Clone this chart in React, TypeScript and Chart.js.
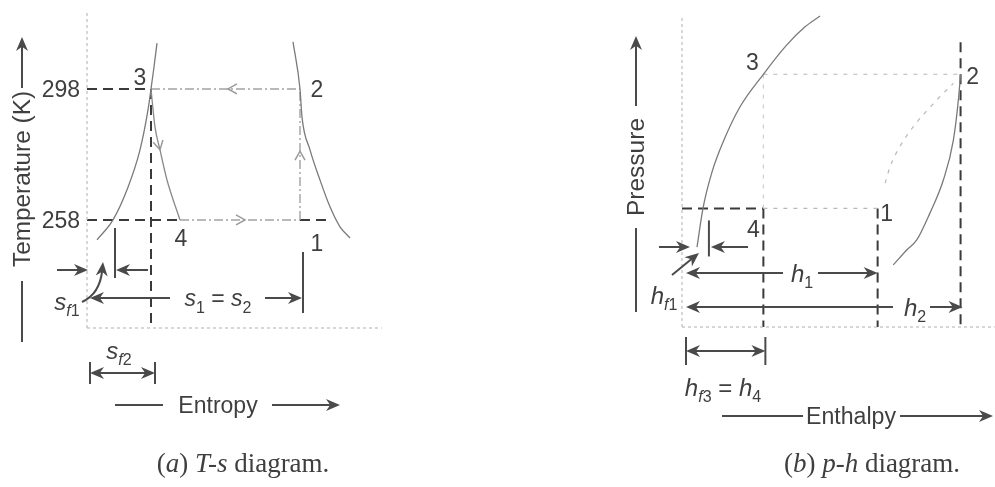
import { useEffect, useRef } from "react";
import { Chart, registerables } from "chart.js";

Chart.register(...registerables);

// ---------- (a) T-s diagram ----------
const T_COND = 298; // condenser temperature, K
const T_EVAP = 258; // evaporator temperature, K
const tempTicks = [298, 258];
const S_F1 = 0.26; // liquid entropy at T_EVAP
const S_F2 = 0.64; // liquid entropy at T_COND (state 3)
const S_4 = 0.93;
const S_1 = 2.13; // s1 = s2
const S_MIN = 0;
const S_MAX = 2.95;
const T_MIN = 225;
const T_MAX = 321.5;

const liquidS = [0.1, 0.26, 0.4, 0.53, 0.61, 0.64, 0.67, 0.7];
const liquidT = [251.9, 258, 267.2, 279.4, 291.6, 298, 304.7, 312.0];
const vapourS = [2.06, 2.13, 2.15, 2.23, 2.33, 2.43, 2.53, 2.63];
const vapourT = [312.4, 298, 289.4, 279.4, 270.2, 262.0, 255.9, 252.5];
const throttleS = [0.64, 0.68, 0.73, 0.8, 0.93];
const throttleT = [298, 286.4, 279.4, 270.2, 258];

// ---------- (b) p-h diagram ----------
const P_HIGH = 8.1;
const P_LOW = 3.8;
const P_GUIDE_TOP = 9.13;
const H_F1 = 8.6;
const H_4 = 26; // h_f3 = h4
const H_1 = 62.5;
const H_2 = 89;
const H_MIN = 0;
const H_MAX = 100;
const P_MIN = 0;
const P_MAX = 10.16;
const P_AXIS_TOP = 9.94;

const phLiquidH = [4.8, 6.7, 9.6, 13.4, 18.5, 26, 33.2, 39.3, 44.1];
const phLiquidP = [2.56, 3.8, 4.97, 5.99, 7.05, 8.1, 9.01, 9.62, 9.97];
const phVapourH = [67.5, 71.8, 75.0, 79.2, 83.5, 86.7, 88.3, 89];
const phVapourP = [1.99, 2.47, 2.79, 3.65, 4.71, 5.99, 7.28, 8.1];
const compressH = [64.9, 66.5, 69.6, 73.9, 80.3, 86.7];
const compressP = [4.61, 5.14, 5.78, 6.42, 7.16, 7.81];

// ---------- styling ----------
const INK = "#3f3f3f";
const ARROW = "#4a4a4a";
const SANS = '"Liberation Sans", Arial, sans-serif';
const SERIF = '"Liberation Serif", "Times New Roman", serif';

type Pt = { x: number; y: number };
const pts = (xs: number[], ys: number[]): Pt[] => xs.map((x, i) => ({ x, y: ys[i] }));
const seg = (x0: number, y0: number, x1: number, y1: number): Pt[] => [
  { x: x0, y: y0 },
  { x: x1, y: y1 },
];

type Style = { color: string; width: number; dash?: number[]; smooth?: boolean };
const CURVE: Style = { color: "#7a7a7a", width: 1.3, smooth: true };
const PROCESS: Style = { color: "#a2a2a2", width: 1.4, dash: [9, 3, 2, 3] };
const DASHED: Style = { color: "#3a3a3a", width: 2, dash: [10, 6] };
const AXIS: Style = { color: "#bdbdbd", width: 1.2, dash: [3, 3] };
const FAINT: Style = { color: "#b8b8b8", width: 1.2, dash: [4, 6] };

function lineSet(data: Pt[], s: Style) {
  return {
    data,
    showLine: true,
    pointRadius: 0,
    borderColor: s.color,
    borderWidth: s.width,
    borderDash: s.dash || [],
    cubicInterpolationMode: s.smooth ? ("monotone" as const) : ("default" as const),
    tension: 0,
    fill: false,
    clip: false as const,
  };
}

// ---------- drawing helpers ----------
type Run = { t: string; it?: boolean; sub?: boolean };

function drawRuns(
  ctx: CanvasRenderingContext2D,
  runs: Run[],
  x: number,
  y: number,
  size: number,
  align: "left" | "center" | "right" = "center",
  family = SANS,
  stretch?: number
) {
  const subSize = Math.round(size * 0.68);
  const font = (r: Run) => `${r.it ? "italic " : ""}${r.sub ? subSize : size}px ${family}`;
  const widths = runs.map((r) => {
    ctx.font = font(r);
    return ctx.measureText(r.t).width;
  });
  const total = widths.reduce((a, b) => a + b, 0);
  const sx = stretch ? stretch / total : 1;
  ctx.save();
  ctx.translate(x, y);
  ctx.scale(sx, 1);
  let cx = align === "center" ? -total / 2 : align === "right" ? -total : 0;
  ctx.fillStyle = INK;
  ctx.textAlign = "left";
  ctx.textBaseline = "alphabetic";
  const base = size * 0.36;
  runs.forEach((r, i) => {
    ctx.font = font(r);
    ctx.fillText(r.t, cx, base + (r.sub ? size * 0.28 : 0));
    cx += widths[i];
  });
  ctx.restore();
}

function drawVertical(ctx: CanvasRenderingContext2D, runs: Run[], x: number, y: number, size: number, stretch?: number) {
  ctx.save();
  ctx.translate(x, y);
  ctx.rotate(-Math.PI / 2);
  drawRuns(ctx, runs, 0, 0, size, "center", SANS, stretch);
  ctx.restore();
}

function line(ctx: CanvasRenderingContext2D, x0: number, y0: number, x1: number, y1: number, color = ARROW, lw = 2) {
  ctx.save();
  ctx.strokeStyle = color;
  ctx.lineWidth = lw;
  ctx.setLineDash([]);
  ctx.beginPath();
  ctx.moveTo(x0, y0);
  ctx.lineTo(x1, y1);
  ctx.stroke();
  ctx.restore();
}

function head(ctx: CanvasRenderingContext2D, x: number, y: number, a: number, len = 14, half = 6) {
  ctx.save();
  ctx.translate(x, y);
  ctx.rotate(a);
  ctx.fillStyle = ARROW;
  ctx.beginPath();
  ctx.moveTo(0, 0);
  ctx.lineTo(-len, -half);
  ctx.lineTo(-len * 0.7, 0);
  ctx.lineTo(-len, half);
  ctx.closePath();
  ctx.fill();
  ctx.restore();
}

function arrow(ctx: CanvasRenderingContext2D, x0: number, y0: number, x1: number, y1: number) {
  const a = Math.atan2(y1 - y0, x1 - x0);
  line(ctx, x0, y0, x1 - Math.cos(a) * 8, y1 - Math.sin(a) * 8);
  head(ctx, x1, y1, a);
}

function curvedArrow(ctx: CanvasRenderingContext2D, x0: number, y0: number, cx: number, cy: number, x1: number, y1: number) {
  const a = Math.atan2(y1 - cy, x1 - cx);
  ctx.save();
  ctx.strokeStyle = ARROW;
  ctx.lineWidth = 2;
  ctx.beginPath();
  ctx.moveTo(x0, y0);
  ctx.quadraticCurveTo(cx, cy, x1 - Math.cos(a) * 8, y1 - Math.sin(a) * 8);
  ctx.stroke();
  ctx.restore();
  head(ctx, x1, y1, a);
}

function bracket(ctx: CanvasRenderingContext2D, x0: number, x1: number, y: number, half: number) {
  line(ctx, x0, y - half, x0, y + half);
  line(ctx, x1, y - half, x1, y + half);
  line(ctx, x0 + 8, y, x1 - 8, y);
  head(ctx, x0, y, Math.PI);
  head(ctx, x1, y, 0);
}

function chevron(ctx: CanvasRenderingContext2D, x: number, y: number, a: number) {
  ctx.save();
  ctx.translate(x, y);
  ctx.rotate(a);
  ctx.strokeStyle = "#9a9a9a";
  ctx.lineWidth = 1.5;
  ctx.setLineDash([]);
  ctx.beginPath();
  ctx.moveTo(-9, -5);
  ctx.lineTo(0, 0);
  ctx.lineTo(-9, 5);
  ctx.stroke();
  ctx.restore();
}

function scalesOf(chart: any) {
  const X = (v: number) => chart.scales.x.getPixelForValue(v);
  const Y = (v: number) => chart.scales.y.getPixelForValue(v);
  return { X, Y, ...chart.chartArea };
}

// ---------- annotations ----------
const tsNotes = {
  id: "tsNotes",
  afterDraw(chart: any) {
    const ctx: CanvasRenderingContext2D = chart.ctx;
    const { X, Y, left: L, top: TOP, bottom: B } = scalesOf(chart);
    ctx.save();

    tempTicks.forEach((v) => drawRuns(ctx, [{ t: String(v) }], L - 7, Y(v), 23, "right"));

    drawRuns(ctx, [{ t: "3" }], X(S_F2) - 11, Y(T_COND) - 12, 23);
    drawRuns(ctx, [{ t: "2" }], X(S_1) + 17, Y(T_COND), 23);
    drawRuns(ctx, [{ t: "4" }], X(S_4) + 1, Y(T_EVAP) + 18, 23);
    drawRuns(ctx, [{ t: "1" }], X(S_1) + 17, Y(T_EVAP) + 23, 23);

    // flow direction around the cycle
    chevron(ctx, X(1.41), Y(T_COND), Math.PI);
    chevron(ctx, X(1.58), Y(T_EVAP), 0);
    chevron(ctx, X(S_1), Y(279), -Math.PI / 2);
    chevron(ctx, X(0.73), Y(279.4), 1.35);

    // temperature axis title
    const ax = L - 65;
    arrow(ctx, ax, TOP + 76, ax, TOP + 25);
    drawVertical(ctx, [{ t: "Temperature (K)" }], ax, TOP + 167, 23, 176);
    line(ctx, ax, TOP + 269, ax, TOP + 330);

    // s_f1
    const yA = B - 58;
    line(ctx, X(S_F1) + 2, Y(T_EVAP) + 8, X(S_F1) + 2, Y(T_EVAP) + 58);
    arrow(ctx, L - 30, yA, L + 1, yA);
    arrow(ctx, X(S_F2) - 3, yA, X(S_F1) + 3, yA);
    curvedArrow(ctx, L - 5, B - 26, L + 13, B - 34, L + 16, B - 66);
    drawRuns(ctx, [{ t: "s", it: true }, { t: "f", it: true, sub: true }, { t: "1", sub: true }], L - 20, B - 27, 24);

    // s1 = s2
    const yB = B - 30;
    arrow(ctx, X(S_F2) + 19, yB, L + 3, yB);
    drawRuns(
      ctx,
      [{ t: "s", it: true }, { t: "1", sub: true }, { t: " = " }, { t: "s", it: true }, { t: "2", sub: true }],
      X(1.31),
      yB,
      23
    );
    arrow(ctx, X(1.78), yB, X(S_1) + 2, yB);
    line(ctx, X(S_1) + 3, B - 76, X(S_1) + 3, B - 15);

    // s_f2
    drawRuns(ctx, [{ t: "s", it: true }, { t: "f", it: true, sub: true }, { t: "2", sub: true }], (L + X(S_F2)) / 2, B + 22, 24);
    bracket(ctx, L + 3, X(S_F2) + 4, B + 45, 11);

    // entropy axis title
    const yE = B + 77;
    line(ctx, L + 28, yE, L + 76, yE);
    drawRuns(ctx, [{ t: "Entropy" }], X(1.31), yE, 23);
    arrow(ctx, L + 185, yE, L + 253, yE);

    drawRuns(
      ctx,
      [{ t: "(" }, { t: "a", it: true }, { t: ") " }, { t: "T-s", it: true }, { t: " diagram." }],
      L + 156,
      B + 134,
      27,
      "center",
      SERIF
    );
    ctx.restore();
  },
};

const phNotes = {
  id: "phNotes",
  afterDraw(chart: any) {
    const ctx: CanvasRenderingContext2D = chart.ctx;
    const { X, Y, left: L, top: TOP, bottom: B } = scalesOf(chart);
    ctx.save();

    // pressure axis title
    const ax = L - 46;
    arrow(ctx, ax, TOP + 96, ax, TOP + 26);
    drawVertical(ctx, [{ t: "Pressure" }], ax, TOP + 157, 23, 98);
    line(ctx, ax, TOP + 218, ax, TOP + 302);

    drawRuns(ctx, [{ t: "3" }], X(H_4) - 11, Y(P_HIGH) - 13, 23);
    drawRuns(ctx, [{ t: "2" }], X(H_2) + 12, Y(P_HIGH) + 1, 23);
    drawRuns(ctx, [{ t: "4" }], X(H_4) - 10, Y(P_LOW) + 20, 23);
    drawRuns(ctx, [{ t: "1" }], X(H_1) + 9, Y(P_LOW) + 4, 23);

    // h_f1
    const yA = B - 80;
    line(ctx, X(H_F1), Y(P_LOW) + 12, X(H_F1), Y(P_LOW) + 48);
    arrow(ctx, L - 23, yA, L + 8, yA);
    arrow(ctx, L + 66, yA, X(H_F1) + 2, yA);
    arrow(ctx, L - 10, B - 52, L + 17, B - 74);
    drawRuns(ctx, [{ t: "h", it: true }, { t: "f", it: true, sub: true }, { t: "1", sub: true }], L - 18, B - 32, 24);

    // h1
    const yB = B - 54;
    arrow(ctx, L + 101, yB, L + 4, yB);
    drawRuns(ctx, [{ t: "h", it: true }, { t: "1", sub: true }], L + 120, yB, 24);
    arrow(ctx, L + 136, yB, X(H_1), yB);

    // h2
    const yC = B - 20;
    arrow(ctx, L + 211, yC, L + 4, yC);
    drawRuns(ctx, [{ t: "h", it: true }, { t: "2", sub: true }], L + 233, yC, 24);
    arrow(ctx, L + 248, yC, X(H_2) + 2, yC);

    // h_f3 = h4
    bracket(ctx, L + 4, X(H_4) + 2, B + 24, 14);
    drawRuns(
      ctx,
      [
        { t: "h", it: true },
        { t: "f", it: true, sub: true },
        { t: "3", sub: true },
        { t: " = " },
        { t: "h", it: true },
        { t: "4", sub: true },
      ],
      L + 41,
      B + 60,
      24
    );

    // enthalpy axis title
    const yE = B + 89;
    line(ctx, L + 40, yE, L + 121, yE);
    drawRuns(ctx, [{ t: "Enthalpy" }], L + 169, yE, 23, "center", SANS, 90);
    arrow(ctx, L + 218, yE, L + 311, yE);

    drawRuns(
      ctx,
      [{ t: "(" }, { t: "b", it: true }, { t: ") " }, { t: "p-h", it: true }, { t: " diagram." }],
      L + 190,
      B + 135,
      27,
      "center",
      SERIF
    );
    ctx.restore();
  },
};

function baseOptions(xMin: number, xMax: number, yMin: number, yMax: number, pad: any) {
  return {
    responsive: false,
    animation: false as const,
    devicePixelRatio: 1,
    events: [] as any[],
    layout: { padding: pad },
    plugins: { legend: { display: false }, tooltip: { enabled: false } },
    scales: {
      x: { type: "linear" as const, min: xMin, max: xMax, display: false },
      y: { type: "linear" as const, min: yMin, max: yMax, display: false },
    },
  };
}

function tsConfig(): any {
  return {
    type: "scatter",
    data: {
      datasets: [
        lineSet(seg(S_MIN, T_MIN, S_MIN, T_MAX), AXIS),
        lineSet(seg(S_MIN, T_MIN, S_MAX, T_MIN), AXIS),
        lineSet(pts(liquidS, liquidT), CURVE),
        lineSet(pts(vapourS, vapourT), CURVE),
        lineSet(pts(throttleS, throttleT), { ...CURVE, color: "#8a8a8a" }),
        lineSet(seg(S_F2, T_COND, S_1, T_COND), PROCESS),
        lineSet(seg(S_4, T_EVAP, S_1, T_EVAP), PROCESS),
        lineSet(seg(S_1, T_EVAP, S_1, T_COND), PROCESS),
        lineSet(seg(S_MIN, T_COND, S_F2, T_COND), DASHED),
        lineSet(seg(S_MIN, T_EVAP, S_4, T_EVAP), DASHED),
        lineSet(seg(S_1, T_EVAP, 2.43, T_EVAP), DASHED),
        lineSet(seg(S_F2, T_COND, S_F2, T_MIN), DASHED),
      ],
    },
    options: baseOptions(S_MIN, S_MAX, T_MIN, T_MAX, { left: 87, right: 115, top: 12, bottom: 159 }),
    plugins: [tsNotes],
  };
}

function phConfig(): any {
  return {
    type: "scatter",
    data: {
      datasets: [
        lineSet(seg(H_MIN, P_MIN, H_MIN, P_AXIS_TOP), AXIS),
        lineSet(seg(H_MIN, P_MIN, H_MAX, P_MIN), AXIS),
        lineSet(pts(phLiquidH, phLiquidP), CURVE),
        lineSet(pts(phVapourH, phVapourP), CURVE),
        lineSet(pts(compressH, compressP), { ...FAINT, smooth: true }),
        lineSet(seg(H_4, P_HIGH, H_2, P_HIGH), FAINT),
        lineSet(seg(H_4, P_LOW, H_1, P_LOW), FAINT),
        lineSet(seg(H_4, P_LOW, H_4, P_HIGH), { ...FAINT, color: "#cfcfcf" }),
        lineSet(seg(H_MIN, P_LOW, H_4, P_LOW), DASHED),
        lineSet(seg(H_4, P_LOW, H_4, P_MIN), DASHED),
        lineSet(seg(H_1, P_LOW, H_1, P_MIN), DASHED),
        lineSet(seg(H_2, P_GUIDE_TOP, H_2, P_MIN), DASHED),
      ],
    },
    options: baseOptions(H_MIN, H_MAX, P_MIN, P_MAX, { left: 185, right: 0, top: 10, bottom: 160 }),
    plugins: [phNotes],
  };
}

export default function App() {
  const tsRef = useRef<HTMLCanvasElement>(null);
  const phRef = useRef<HTMLCanvasElement>(null);

  useEffect(() => {
    const ts = new Chart(tsRef.current as HTMLCanvasElement, tsConfig());
    const ph = new Chart(phRef.current as HTMLCanvasElement, phConfig());
    return () => {
      ts.destroy();
      ph.destroy();
    };
  }, []);

  return (
    <div
      style={{
        position: "fixed",
        left: 0,
        top: 0,
        width: 995,
        height: 487,
        background: "#ffffff",
        overflow: "hidden",
      }}
    >
      <canvas
        ref={tsRef}
        width={497}
        height={487}
        style={{ position: "absolute", left: 0, top: 0, width: 497, height: 487 }}
      />
      <canvas
        ref={phRef}
        width={498}
        height={487}
        style={{ position: "absolute", left: 497, top: 0, width: 498, height: 487 }}
      />
    </div>
  );
}
